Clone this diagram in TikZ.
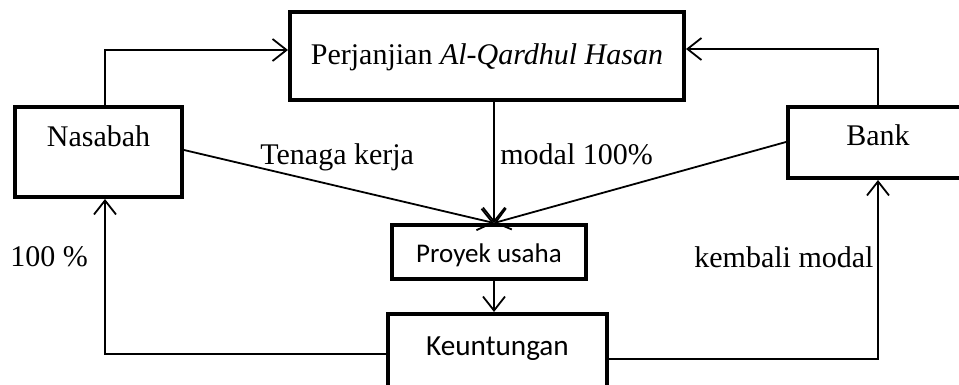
\documentclass[tikz,border=0pt]{standalone}
\usepackage{fontspec}
\setmainfont{Liberation Serif}
\newfontfamily\carlito{Carlito}
\usepackage{tikz}
\usetikzlibrary{calc,arrows.meta}

\tikzset{
  box/.style={draw, line width=2pt, inner xsep=0pt, inner ysep=0pt, font=\fontsize{15}{17}\selectfont},
  sbox/.style={box, font=\carlito\fontsize{13.5}{16}\selectfont},
  flow/.style={line width=0.9pt, -{Straight Barb[length=7pt,width=11pt]}},
  lbl/.style={inner sep=0pt, anchor=base west, font=\fontsize{15}{17}\selectfont}
}

\begin{document}
\begin{tikzpicture}[x=0.5pt,y=-0.5pt]
\useasboundingbox (0,0) rectangle (959,385);
\node [box, minimum width=197pt, text height=26.5pt, text depth=17.5pt] (perj) at (487,56) {Perjanjian \textit{Al-Qardhul Hasan}};
\node [box, minimum width=83.5pt, text height=20pt, text depth=25pt] (nasabah) at (98.5,152) {Nasabah};
\node [box, minimum width=90pt, text height=19.5pt, text depth=16pt] (bank) at (878,142.5) {Bank};
\node [sbox, minimum width=97pt, text height=19pt, text depth=8pt] (proyek) at (489,252) {Proyek usaha};
\node [sbox, font=\carlito\fontsize{14.6}{17}\selectfont, minimum width=109.5pt, text height=20.5pt, text depth=22.5pt] (untung) at (497.5,357) {Keuntungan};
\coordinate (meet) at ([xshift=2.5pt]proyek.north);
\draw [flow] ([xshift=3.25pt]nasabah.north) |- ([yshift=3pt]perj.west);
\draw [flow] (bank.north) |- ([yshift=3.5pt]perj.east);
\draw [flow] (perj.south -| meet) -- (meet);
\draw [flow] ([yshift=1pt]nasabah.east) -- (meet);
\draw [flow] ([yshift=0.25pt]bank.west) -- (meet);
\draw [flow] (proyek.south -| meet) -- (untung.north -| meet);
\draw [flow] ([yshift=1.5pt]untung.west) -| ([xshift=3.25pt]nasabah.south);
\draw [flow] ([yshift=-1pt]untung.east) -| (bank.south);
\node [lbl] (tenaga) at (260,165) {Tenaga kerja};
\node [lbl] (modal) at (500,165) {modal 100\%};
\node [lbl] (persen) at (10,266) {100 \%};
\node [lbl] (kembali) at (694,267) {kembali modal};
\end{tikzpicture}
\end{document}
